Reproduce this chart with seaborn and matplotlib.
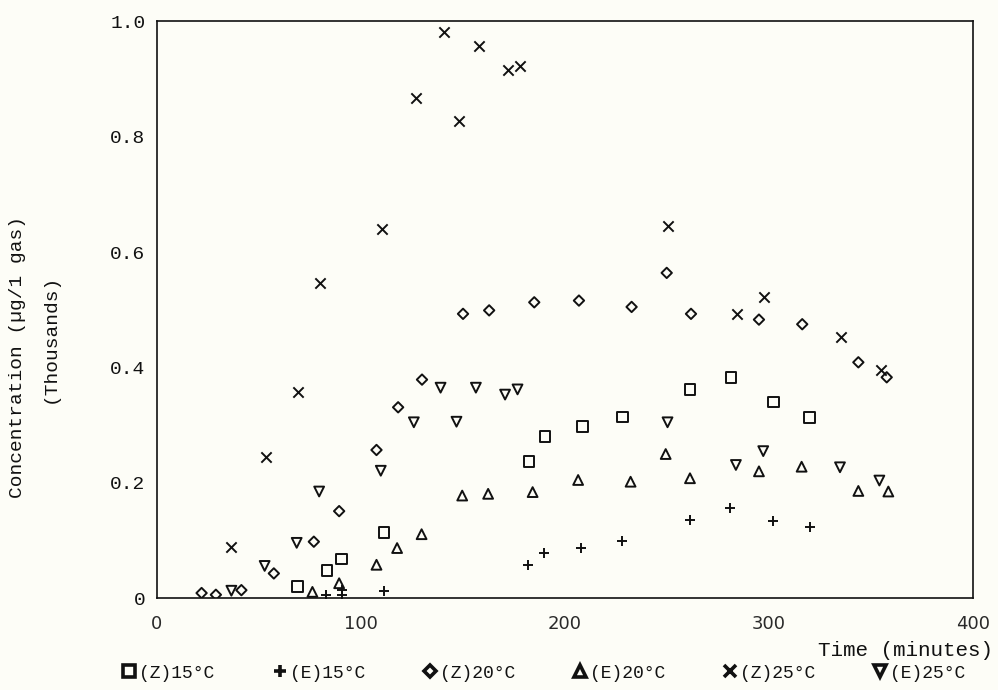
import numpy as np
import pandas as pd
import matplotlib
matplotlib.use("Agg")
import matplotlib.pyplot as plt
from matplotlib.lines import Line2D
from matplotlib.ticker import MultipleLocator, FixedLocator
import seaborn as sns

# ---- data: time (minutes) and concentration (thousands of µg/l gas) ----
z15_time = [69, 83.5, 90.5, 111.4, 182.5, 190.2, 208.5, 228.3, 261.3, 281.4, 302.1, 319.8]
z15_conc = [0.020, 0.048, 0.068, 0.114, 0.237, 0.280, 0.298, 0.314, 0.362, 0.383, 0.340, 0.313]

e15_time = [83.2, 90.7, 90.7, 111.3, 182.0, 189.9, 207.8, 228.1, 261.3, 280.9, 302.1, 319.9]
e15_conc = [0.006, 0.014, 0.006, 0.013, 0.057, 0.079, 0.087, 0.100, 0.136, 0.156, 0.134, 0.124]

z20_time = [22, 29, 41.5, 57.4, 77.0, 89.4, 107.7, 118.3, 130.0, 150.1, 162.9, 185.0,
            206.9, 232.7, 249.9, 261.8, 295.1, 316.3, 343.8, 357.7]
z20_conc = [0.009, 0.006, 0.014, 0.043, 0.098, 0.151, 0.257, 0.331, 0.379, 0.493, 0.499, 0.513,
            0.516, 0.505, 0.564, 0.493, 0.483, 0.475, 0.409, 0.383]

e20_time = [76.3, 89.4, 107.7, 117.8, 129.8, 149.7, 162.4, 184.2, 206.5, 232.2, 249.4, 261.3,
            295.1, 316.0, 343.8, 358.5]
e20_conc = [0.011, 0.026, 0.058, 0.087, 0.111, 0.178, 0.181, 0.184, 0.205, 0.202, 0.250, 0.208,
            0.220, 0.228, 0.186, 0.185]

z25_time = [36.6, 53.8, 69.0, 79.9, 110.6, 127.3, 140.7, 148.2, 157.7, 172.2, 178.1, 250.6,
            284.5, 297.5, 335.1, 354.9]
z25_conc = [0.089, 0.244, 0.358, 0.547, 0.640, 0.868, 0.982, 0.828, 0.957, 0.916, 0.922, 0.646,
            0.493, 0.523, 0.452, 0.396]

e25_time = [36.6, 52.9, 68.6, 79.6, 109.8, 126.0, 139.1, 146.9, 156.4, 170.7, 176.8, 250.3,
            283.8, 297.2, 334.8, 354.1]
e25_conc = [0.013, 0.056, 0.096, 0.185, 0.221, 0.305, 0.365, 0.306, 0.365, 0.353, 0.362, 0.305,
            0.231, 0.255, 0.227, 0.204]

series_names = ["(Z)15°C", "(E)15°C", "(Z)20°C", "(E)20°C", "(Z)25°C", "(E)25°C"]
series_data = [(z15_time, z15_conc), (e15_time, e15_conc), (z20_time, z20_conc),
               (e20_time, e20_conc), (z25_time, z25_conc), (e25_time, e25_conc)]

x_ticks = [0, 100, 200, 300, 400]
y_ticks = [0, 0.2, 0.4, 0.6, 0.8, 1.0]
y_tick_labels = ["0", "0.2", "0.4", "0.6", "0.8", "1.0"]

frames = []
for name, (t, c) in zip(series_names, series_data):
    frames.append(pd.DataFrame({"time": t, "conc": c, "series": name}))
df = pd.concat(frames, ignore_index=True)

# ---- styling ----
sns.set_theme(style="white")
MONO = ["Liberation Mono", "DejaVu Sans Mono"]
plt.rcParams["font.family"] = MONO
ink = "#111111"
paper = "#fdfdf7"

markers = {"(Z)15°C": "s", "(E)15°C": "+", "(Z)20°C": "D",
           "(E)20°C": "^", "(Z)25°C": "x", "(E)25°C": "v"}
sizes = {"(Z)15°C": 58, "(E)15°C": 60, "(Z)20°C": 28,
         "(E)20°C": 50, "(Z)25°C": 55, "(E)25°C": 50}

fig = plt.figure(figsize=(9.98, 6.9), dpi=100, facecolor=paper)
ax = fig.add_axes([0.157, 0.133, 0.818, 0.836])
ax.set_facecolor(paper)

for name in series_names:
    sub = df[df["series"] == name]
    m = markers[name]
    kw = dict(color=ink, linewidth=1.4)
    if m in ("+", "x"):
        kw.update(edgecolor=ink)
    else:
        kw.update(facecolor="none", edgecolor=ink)
    sns.scatterplot(data=sub, x="time", y="conc", marker=m, s=sizes[name],
                    ax=ax, legend=False, zorder=3, **kw)

ax.set_xlim(0, 400)
ax.set_ylim(0, 1.0)
ax.set_xlabel("")
ax.set_ylabel("")

for sp in ax.spines.values():
    sp.set_visible(True)
    sp.set_color(ink)
    sp.set_linewidth(1.2)

ax.xaxis.set_major_locator(FixedLocator(x_ticks))
ax.xaxis.set_minor_locator(MultipleLocator(50))
ax.yaxis.set_major_locator(FixedLocator(y_ticks))
ax.yaxis.set_minor_locator(MultipleLocator(0.1))
ax.set_yticklabels(y_tick_labels)
ax.set_xticklabels([str(v) for v in x_ticks])

ax.tick_params(axis="both", which="both", direction="out", length=6, width=1.1,
               color=ink, top=False, right=False)
ax.tick_params(axis="x", which="major", labelsize=13, labelcolor="#2a2a2a", pad=6)
ax.tick_params(axis="y", which="major", labelsize=14, labelcolor=ink, pad=2)
for lab in ax.get_xticklabels():
    lab.set_family(["DejaVu Sans"])

# axis titles
fig.text(0.995, 1 - 651 / 690, "Time (minutes)", ha="right", va="center",
         fontsize=15, color=ink, family=MONO)
fig.text(18 / 998, 1 - 357 / 690, "Concentration (µg/1 gas)", rotation=90,
         ha="center", va="center", fontsize=14, color=ink, family=MONO)
fig.text(50 / 998, 1 - 338 / 690, "(Thousands)", rotation=90,
         ha="center", va="center", fontsize=14, color=ink, family=MONO)

# legend with bold markers along the bottom
handles = []
for name in series_names:
    m = markers[name]
    handles.append(Line2D([0], [0], linestyle="", marker=m, markersize=9 if m != "D" else 6.5,
                          markeredgewidth=2.6, markerfacecolor="none",
                          markeredgecolor=ink, color=ink))
leg = fig.legend(handles, series_names, loc="center", bbox_to_anchor=(0.545, 1 - 673 / 690),
                 ncol=6, frameon=False, handlelength=0.8, handletextpad=0.15,
                 columnspacing=3.2, prop={"family": MONO, "size": 13},
                 borderpad=0.0)
for t in leg.get_texts():
    t.set_color(ink)

fig.savefig("out.png", dpi=100, facecolor=paper)
